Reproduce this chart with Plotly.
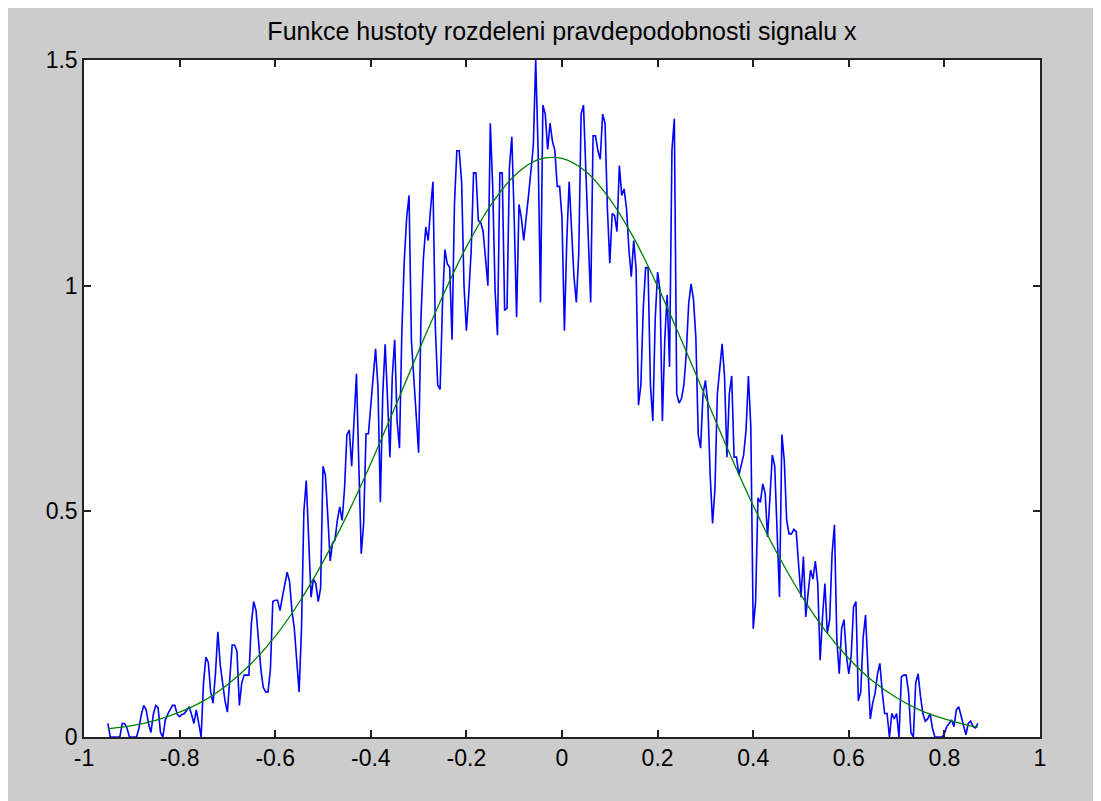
import plotly.graph_objects as go

# ---- data ----
blue_x_start = -0.95
blue_bin = 0.005
blue_density = [
    0.03, 0.0, 0.0, 0.0, 0.0, 0.0, 0.03, 0.03, 0.02, 0.0,
    0.0, 0.0, 0.0, 0.02, 0.05, 0.07, 0.06, 0.03, 0.01, 0.05,
    0.07, 0.065, 0.01, 0.0, 0.037, 0.05, 0.06, 0.07, 0.07, 0.05,
    0.045, 0.05, 0.052, 0.06, 0.067, 0.05, 0.03, 0.06, 0.03, 0.0,
    0.12, 0.177, 0.165, 0.10, 0.075, 0.14, 0.233, 0.16, 0.12, 0.08,
    0.055, 0.13, 0.204, 0.204, 0.19, 0.07, 0.12, 0.137, 0.137, 0.137,
    0.25, 0.30, 0.28, 0.22, 0.15, 0.11, 0.10, 0.10, 0.15, 0.30,
    0.303, 0.303, 0.28, 0.31, 0.34, 0.365, 0.345, 0.28, 0.24, 0.17,
    0.10, 0.24, 0.50, 0.568, 0.45, 0.31, 0.35, 0.34, 0.30, 0.33,
    0.60, 0.58, 0.49, 0.39, 0.43, 0.436, 0.48, 0.51, 0.48, 0.55,
    0.67, 0.68, 0.60, 0.70, 0.805, 0.60, 0.406, 0.473, 0.672, 0.672,
    0.73, 0.80, 0.86, 0.775, 0.52, 0.76, 0.87, 0.75, 0.62, 0.80,
    0.88, 0.70, 0.64, 0.90, 1.055, 1.15, 1.20, 0.878, 0.80, 0.72,
    0.63, 0.93, 1.06, 1.13, 1.10, 1.17, 1.23, 0.908, 0.78, 0.77,
    0.96, 1.08, 1.048, 1.041, 0.88, 1.18, 1.299, 1.299, 1.23, 1.00,
    0.90, 0.982, 1.077, 1.25, 1.25, 1.144, 1.14, 1.12, 1.06, 1.00,
    1.36, 1.22, 0.99, 0.89, 1.25, 1.25, 0.945, 0.95, 1.262, 1.33,
    1.15, 0.93, 1.18, 1.15, 1.10, 1.144, 1.20, 1.254, 1.31, 1.50,
    1.30, 0.963, 1.40, 1.38, 1.302, 1.36, 1.32, 1.30, 1.22, 1.22,
    1.15, 0.90, 1.10, 1.23, 1.133, 1.02, 0.963, 1.07, 1.38, 1.40,
    1.251, 1.10, 0.963, 1.332, 1.332, 1.30, 1.28, 1.38, 1.36, 1.17,
    1.05, 1.16, 1.155, 1.12, 1.266, 1.20, 1.214, 1.17, 1.08, 1.02,
    1.10, 1.037, 0.735, 0.78, 0.95, 1.04, 1.04, 0.78, 0.70, 0.926,
    1.03, 0.99, 0.70, 0.88, 0.98, 0.82, 1.30, 1.37, 0.76, 0.74,
    0.75, 0.78, 0.85, 0.96, 1.004, 0.97, 0.886, 0.67, 0.64, 0.76,
    0.79, 0.74, 0.58, 0.473, 0.55, 0.76, 0.82, 0.871, 0.80, 0.62,
    0.76, 0.80, 0.62, 0.62, 0.58, 0.605, 0.625, 0.68, 0.80, 0.687,
    0.24, 0.30, 0.53, 0.52, 0.561, 0.54, 0.443, 0.53, 0.625, 0.60,
    0.43, 0.31, 0.67, 0.613, 0.48, 0.45, 0.45, 0.46, 0.455, 0.38,
    0.31, 0.40, 0.266, 0.32, 0.37, 0.35, 0.39, 0.34, 0.17, 0.266,
    0.34, 0.23, 0.26, 0.406, 0.47, 0.215, 0.14, 0.24, 0.26, 0.18,
    0.14, 0.18, 0.288, 0.30, 0.08, 0.10, 0.22, 0.27, 0.17, 0.04,
    0.075, 0.097, 0.14, 0.163, 0.10, 0.052, 0.052, 0.0, 0.052, 0.04,
    0.052, 0.0, 0.133, 0.137, 0.137, 0.10, 0.01, 0.0, 0.12, 0.14,
    0.09, 0.052, 0.035, 0.04, 0.052, 0.02, 0.0, 0.0, 0.0, 0.0,
    0.008, 0.023, 0.03, 0.038, 0.023, 0.06, 0.067, 0.045, 0.023, 0.005,
    0.03, 0.035, 0.023, 0.02, 0.03,
]
blue_x = [round(blue_x_start + i * blue_bin, 4) for i in range(len(blue_density))]

green_x = [-0.95, -0.90, -0.85, -0.80, -0.75, -0.70, -0.65, -0.60, -0.55, -0.50,
           -0.45, -0.40, -0.35, -0.30, -0.25, -0.20, -0.15, -0.10, -0.05, 0.00,
           0.05, 0.10, 0.15, 0.20, 0.25, 0.30, 0.35, 0.40, 0.45, 0.50,
           0.55, 0.60, 0.65, 0.70, 0.75, 0.80, 0.85, 0.87]
green_y = [0.018, 0.025, 0.037, 0.055, 0.080, 0.116, 0.163, 0.223, 0.298, 0.388,
           0.491, 0.606, 0.729, 0.855, 0.976, 1.086, 1.177, 1.243, 1.279, 1.282,
           1.253, 1.192, 1.106, 0.999, 0.879, 0.754, 0.630, 0.513, 0.407, 0.315,
           0.237, 0.174, 0.124, 0.087, 0.059, 0.040, 0.026, 0.022]

x_ticks = [-1, -0.8, -0.6, -0.4, -0.2, 0, 0.2, 0.4, 0.6, 0.8, 1]
x_tick_text = ["-1", "-0.8", "-0.6", "-0.4", "-0.2", "0", "0.2", "0.4", "0.6", "0.8", "1"]
y_ticks = [0, 0.5, 1, 1.5]
y_tick_text = ["0", "0.5", "1", "1.5"]

title_text = "Funkce hustoty rozdeleni pravdepodobnosti signalu x"

# ---- layout geometry (page body has an 8px white margin) ----
W, H = 1093, 793
L, R, T, B = 76, 61, 52, 64
pw = W - L - R

fig = go.Figure()
fig.add_trace(go.Scatter(x=blue_x, y=blue_density, mode="lines",
                         line=dict(color="#0000ff", width=1.6),
                         showlegend=False))
fig.add_trace(go.Scatter(x=green_x, y=green_y, mode="lines",
                         line=dict(color="#008000", width=1.3, shape="spline"),
                         showlegend=False))

font_family = "Liberation Sans, Arial, sans-serif"

axis_style = dict(showgrid=False, zeroline=False, showline=True, mirror="ticks",
                  linecolor="#222222", linewidth=1.5, ticks="inside", ticklen=7,
                  tickcolor="#222222", tickwidth=1.5,
                  tickfont=dict(family=font_family, size=23, color="black"))

fig.update_layout(
    width=W, height=H,
    margin=dict(l=L, r=R, t=T, b=B, pad=0),
    paper_bgcolor="#cccccc",
    plot_bgcolor="white",
    font=dict(family=font_family, size=23, color="black"),
    title=dict(text=title_text, x=(L + pw / 2) / W, xanchor="center",
               y=1 - 23 / H, yanchor="middle",
               font=dict(family=font_family, size=25, color="black")),
    xaxis=dict(range=[-1, 1], tickvals=x_ticks, ticktext=x_tick_text, **axis_style),
    yaxis=dict(range=[0, 1.5], tickvals=y_ticks, ticktext=y_tick_text, **axis_style),
)

fig.write_html("out.html")
